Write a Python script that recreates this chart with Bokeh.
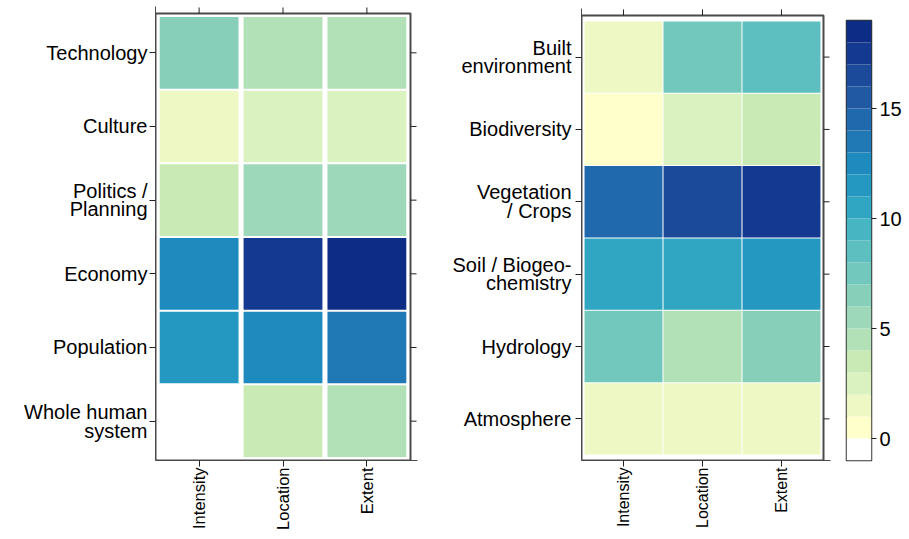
import math
from bokeh.plotting import figure
from bokeh.models import FixedTicker, Range1d, ColumnDataSource
from bokeh.layouts import row
from bokeh.embed import file_html
from bokeh.resources import INLINE

# ---------------- data ----------------
columns = ["Intensity", "Location", "Extent"]

human_rows = ["Technology", "Culture", "Politics /\nPlanning", "Economy",
              "Population", "Whole human\nsystem"]
human_intensity = [7, 2, 4, 13, 12, 0]
human_location = [5, 3, 6, 18, 13, 4]
human_extent = [5, 3, 6, 19, 14, 5]

earth_rows = ["Built\nenvironment", "Biodiversity", "Vegetation\n/ Crops",
              "Soil / Biogeo-\nchemistry", "Hydrology", "Atmosphere"]
earth_intensity = [2, 1, 15, 11, 8, 2]
earth_location = [8, 3, 17, 11, 5, 2]
earth_extent = [9, 4, 18, 12, 7, 2]

colorbar_ticks = [0, 5, 10, 15]
colorbar_min, colorbar_max = -1, 19

# colour for value bins (k-1, k], k = 0..19
palette = ["#FFFFFF", "#FFFFCC", "#EDF8C4", "#DAF1C0", "#C9EAB5", "#B3E1B7",
           "#9ED8BA", "#88CFBA", "#72C8BD", "#5DBFC0", "#47B5C2", "#31A6C2",
           "#2598C2", "#1F8ABE", "#2079B5", "#2169AD", "#2259A3", "#1B4A9A",
           "#133A90", "#0D2C85"]

FONT = "Liberation Sans"
H = 539
TICK = 6
EXT = 7          # px the plotting frame extends beyond the drawn box (top/right)
TOPB = 20        # top border kept free inside the canvas (axis label overhang)
FRAME_COL = "#4a4a4a"


def color_of(v):
    idx = int(math.ceil(v - colorbar_min)) - 1
    idx = max(0, min(len(palette) - 1, idx))
    return palette[idx]


def panel(rows, series, width, bl, top_px, box_w, box_h, xr, yr, gx, gy, std_y, xfs):
    n = len(rows)
    xs, ys, cs = [], [], []
    for j, vals in enumerate(series):
        for i, v in enumerate(vals):
            xs.append(j + 1)
            ys.append(n - i)
            cs.append(color_of(v))
    src = ColumnDataSource(dict(x=xs, y=ys, c=cs))
    dx = EXT * (xr[1] - xr[0]) / box_w
    dy = EXT * (yr[1] - yr[0]) / box_h
    br = width - bl - box_w - EXT
    shift = TOPB - (top_px - EXT)          # canvas is moved up by this much
    height = H + shift
    bb = height - TOPB - box_h - EXT
    p = figure(width=width, height=height, output_backend="svg",
               toolbar_location=None, title=None,
               x_range=Range1d(xr[0], xr[1] + dx), y_range=Range1d(yr[0], yr[1] + dy),
               min_border_left=bl, min_border_right=br, min_border_top=TOPB,
               min_border_bottom=bb, margin=(-shift, 0, 0, 0))
    p.rect(x="x", y="y", width=gx, height=gy, fill_color="c", line_color=None,
           source=src)
    # drawn box
    p.quad(left=xr[0], right=xr[1], bottom=yr[0], top=yr[1], fill_color=None,
           line_color=FRAME_COL, line_width=2)
    # ticks on the top and right sides
    p.ray(x=[1, 2, 3], y=yr[1], length=TICK, length_units="screen",
          angle=math.pi / 2, line_color="#222222", line_width=1)
    p.ray(x=xr[1], y=list(range(1, n + 1)), length=TICK, length_units="screen",
          angle=0, line_color="#222222", line_width=1)
    p.grid.visible = False
    p.outline_line_color = None

    xa = p.xaxis[0]
    xa.ticker = FixedTicker(ticks=[1, 2, 3])
    xa.major_label_overrides = {j + 1: c for j, c in enumerate(columns)}
    xa.major_label_orientation = math.pi / 2
    xa.major_label_text_font_size = xfs
    xa.major_label_standoff = 1
    ya = p.yaxis[0]
    ya.ticker = FixedTicker(ticks=list(range(1, n + 1)))
    ya.major_label_overrides = {n - i: r for i, r in enumerate(rows)}
    ya.major_label_text_font_size = "20px"
    ya.major_label_text_line_height = 0.85
    ya.major_label_standoff = std_y
    for ax in (xa, ya):
        ax.axis_line_color = FRAME_COL
        ax.axis_line_width = 1
        ax.major_tick_in = 0
        ax.major_tick_out = TICK
        ax.major_tick_line_color = "#222222"
        ax.minor_tick_line_color = None
        ax.major_label_text_font = FONT
        ax.major_label_text_color = "black"
    return p


p1 = panel(human_rows, [human_intensity, human_location, human_extent],
           width=430, bl=155, top_px=13, box_w=255, box_h=449,
           xr=(0.48, 3.52), yr=(0.466, 6.534), gx=0.94, gy=0.973, std_y=2,
           xfs="16.5px")
p2 = panel(earth_rows, [earth_intensity, earth_location, earth_extent],
           width=408, bl=151, top_px=15, box_w=242, box_h=449,
           xr=(0.468, 3.532), yr=(0.4245, 6.5755), gx=0.987, gy=0.986, std_y=4,
           xfs="16px")

# colour key
cb = figure(width=70, height=H, output_backend="svg", toolbar_location=None,
            title=None,
            x_range=Range1d(0, 1), y_range=Range1d(colorbar_min, colorbar_max),
            x_axis_location=None, y_axis_location="right",
            min_border_left=8, min_border_right=37, min_border_top=15,
            min_border_bottom=H - 15 - 445)
bins = list(range(colorbar_min + 1, colorbar_max + 1))
cb.quad(left=0, right=1, bottom=[b - 1 for b in bins], top=bins,
        fill_color=[color_of(b) for b in bins], line_color=None)
cb.grid.visible = False
cb.outline_line_color = "#333333"
cb.outline_line_width = 1.5
cya = cb.yaxis[0]
cya.ticker = FixedTicker(ticks=colorbar_ticks)
cya.axis_line_color = None
cya.major_tick_in = 0
cya.major_tick_out = 5
cya.major_tick_line_color = "#222222"
cya.minor_tick_line_color = None
cya.major_label_text_font = FONT
cya.major_label_text_font_size = "20px"
cya.major_label_text_color = "black"
cya.major_label_standoff = 3

layout = row(p1, p2, cb, spacing=0)
open("out.html", "w").write(file_html(layout, INLINE))
